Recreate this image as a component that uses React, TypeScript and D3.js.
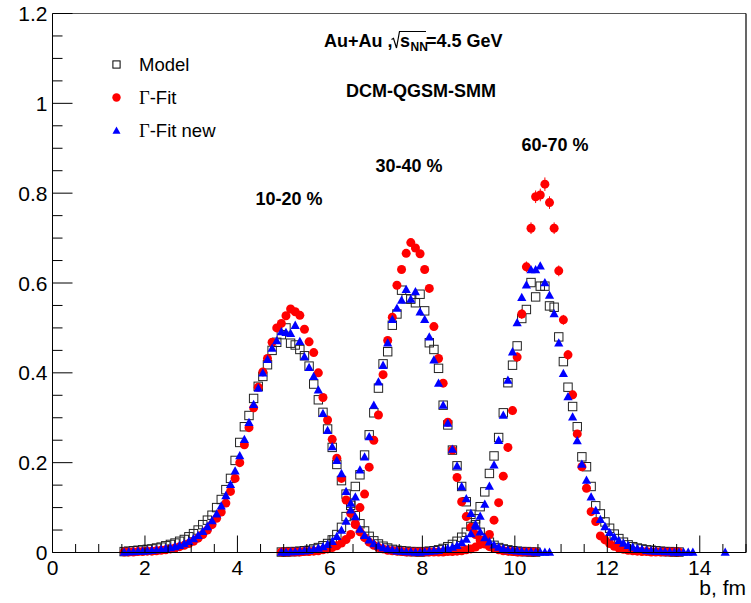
import React from "react";
import * as d3 from "d3";

// Impact-parameter distributions for three centrality classes (bins of 0.1 fm)
const classLabels = ["10-20 %", "30-40 %", "60-70 %"];
const binWidth = 0.1;

// 10-20 %: first bin centre 1.55 fm
const start10_20 = 1.55;
const model10_20 = [
  0.002, 0.003, 0.004, 0.005, 0.006, 0.007, 0.008, 0.010, 0.012, 0.015,
  0.018, 0.021, 0.025, 0.029, 0.035, 0.042, 0.050, 0.062, 0.072, 0.083,
  0.100, 0.118, 0.140, 0.165, 0.205, 0.245, 0.280, 0.305, 0.343, 0.370,
  0.392, 0.418, 0.450, 0.468, 0.485, 0.500, 0.466, 0.462, 0.452, 0.438,
  0.415, 0.375, 0.340, 0.312, 0.275, 0.234, 0.196, 0.160, 0.130, 0.105,
  0.082, 0.064, 0.048, 0.036, 0.026, 0.019, 0.014, 0.010, 0.007, 0.005,
  0.004, 0.003, 0.002, 0.002, 0.001,
];
const gfit10_20 = [
  0.001, 0.001, 0.001, 0.002, 0.002, 0.003, 0.003, 0.004, 0.005, 0.006,
  0.008, 0.010, 0.013, 0.016, 0.020, 0.025, 0.032, 0.040, 0.050, 0.062,
  0.076, 0.090, 0.110, 0.136, 0.165, 0.200, 0.240, 0.278, 0.322, 0.368,
  0.402, 0.432, 0.468, 0.500, 0.510, 0.527, 0.542, 0.536, 0.528, 0.497,
  0.469, 0.445, 0.400, 0.345, 0.295, 0.252, 0.210, 0.165, 0.117, 0.087,
  0.064, 0.046, 0.033, 0.023, 0.016, 0.011, 0.008, 0.005, 0.004, 0.003,
  0.002, 0.001, 0.001, 0.001, 0.001,
];
const gfitNew10_20 = [
  0.001, 0.002, 0.002, 0.003, 0.003, 0.004, 0.005, 0.006, 0.007, 0.009,
  0.011, 0.013, 0.016, 0.020, 0.025, 0.031, 0.038, 0.047, 0.058, 0.071,
  0.086, 0.104, 0.127, 0.152, 0.182, 0.216, 0.252, 0.290, 0.330, 0.366,
  0.400, 0.430, 0.455, 0.472, 0.492, 0.490, 0.488, 0.506, 0.470, 0.436,
  0.412, 0.392, 0.362, 0.310, 0.272, 0.236, 0.205, 0.176, 0.136, 0.110,
  0.080, 0.052, 0.038, 0.028, 0.020, 0.015, 0.011, 0.008, 0.006, 0.004,
  0.003, 0.002, 0.002, 0.001, 0.001,
];

// 30-40 %: first bin centre 4.95 fm
const start30_40 = 4.95;
const model30_40 = [
  0.001, 0.001, 0.002, 0.002, 0.003, 0.004, 0.005, 0.008, 0.011, 0.015,
  0.020, 0.028, 0.040, 0.056, 0.080, 0.110, 0.147, 0.173, 0.217, 0.262,
  0.311, 0.366, 0.420, 0.447, 0.506, 0.531, 0.584, 0.565, 0.564, 0.556,
  0.575, 0.538, 0.467, 0.452, 0.410, 0.328, 0.284, 0.228, 0.193, 0.147,
  0.113, 0.085, 0.062, 0.045, 0.032, 0.023, 0.016, 0.011, 0.008, 0.006,
  0.004, 0.003, 0.002, 0.002, 0.001, 0.001,
];
const gfit30_40 = [
  0.001, 0.001, 0.001, 0.001, 0.001, 0.002, 0.002, 0.003, 0.004, 0.006,
  0.008, 0.011, 0.015, 0.021, 0.029, 0.040, 0.062, 0.100, 0.130, 0.190,
  0.250, 0.306, 0.396, 0.472, 0.524, 0.595, 0.630, 0.666, 0.690, 0.678,
  0.665, 0.630, 0.588, 0.503, 0.432, 0.377, 0.290, 0.228, 0.167, 0.113,
  0.080, 0.056, 0.040, 0.028, 0.019, 0.013, 0.009, 0.006, 0.004, 0.003,
  0.002, 0.001, 0.001, 0.001, 0.001, 0.001,
];
const gfitNew30_40 = [
  0.001, 0.001, 0.002, 0.002, 0.003, 0.004, 0.005, 0.007, 0.010, 0.013,
  0.018, 0.025, 0.036, 0.050, 0.070, 0.095, 0.124, 0.184, 0.213, 0.258,
  0.328, 0.380, 0.417, 0.467, 0.519, 0.544, 0.562, 0.586, 0.564, 0.581,
  0.536, 0.519, 0.480, 0.429, 0.377, 0.328, 0.288, 0.230, 0.193, 0.147,
  0.120, 0.087, 0.063, 0.046, 0.033, 0.024, 0.017, 0.012, 0.009, 0.006,
  0.005, 0.004, 0.003, 0.002, 0.002, 0.001, 0.001, 0.001, 0.001,
];

// 60-70 %: first bin centre 8.05 fm
const start60_70 = 8.05;
const model60_70 = [
  0.002, 0.003, 0.004, 0.006, 0.009, 0.013, 0.018, 0.025, 0.034, 0.045,
  0.058, 0.075, 0.102, 0.135, 0.176, 0.215, 0.256, 0.311, 0.378, 0.417,
  0.460, 0.521, 0.541, 0.601, 0.569, 0.593, 0.593, 0.549, 0.546, 0.480,
  0.425, 0.368, 0.325, 0.280, 0.213, 0.191, 0.147, 0.104, 0.086, 0.068,
  0.054, 0.041, 0.031, 0.023, 0.017, 0.013, 0.010, 0.008, 0.006, 0.005,
  0.004, 0.003, 0.002, 0.002, 0.001, 0.001,
];
const gfit60_70 = [
  0.001, 0.001, 0.001, 0.001, 0.001, 0.002, 0.002, 0.003, 0.004, 0.006,
  0.008, 0.012, 0.018, 0.027, 0.040, 0.072, 0.111, 0.170, 0.234, 0.316,
  0.435, 0.531, 0.636, 0.722, 0.792, 0.796, 0.820, 0.779, 0.722, 0.627,
  0.518, 0.440, 0.351, 0.264, 0.191, 0.143, 0.091, 0.069, 0.037, 0.028,
  0.020, 0.014, 0.010, 0.007, 0.005, 0.004, 0.003, 0.002, 0.002, 0.001,
  0.001, 0.001, 0.001, 0.001, 0.001, 0.001,
];
const gfitErr60_70 = [
  0.001, 0.001, 0.001, 0.001, 0.001, 0.001, 0.001, 0.001, 0.001, 0.001,
  0.002, 0.002, 0.003, 0.004, 0.005, 0.006, 0.007, 0.008, 0.009, 0.010,
  0.011, 0.011, 0.012, 0.013, 0.014, 0.014, 0.015, 0.014, 0.013, 0.012,
  0.011, 0.011, 0.010, 0.009, 0.008, 0.007, 0.006, 0.005, 0.004, 0.003,
  0.003, 0.002, 0.002, 0.002, 0.001, 0.001, 0.001, 0.001, 0.001, 0.001,
  0.001, 0.001, 0.001, 0.001, 0.001, 0.001,
];
const gfitNew60_70 = [
  0.002, 0.003, 0.004, 0.005, 0.007, 0.009, 0.012, 0.016, 0.022, 0.030,
  0.042, 0.059, 0.081, 0.108, 0.148, 0.195, 0.250, 0.306, 0.384, 0.447,
  0.512, 0.568, 0.596, 0.630, 0.630, 0.638, 0.601, 0.573, 0.532, 0.467,
  0.399, 0.347, 0.302, 0.249, 0.197, 0.161, 0.124, 0.094, 0.074, 0.058,
  0.045, 0.035, 0.027, 0.021, 0.016, 0.012, 0.009, 0.007, 0.005, 0.004,
  0.003, 0.003, 0.002, 0.002, 0.001, 0.001, 0.001, 0.001, 0.001,
  null, null, null, null, null, null, 0.001,
];

const xTicks = [0, 2, 4, 6, 8, 10, 12, 14];
const yTicks = [0, 0.2, 0.4, 0.6, 0.8, 1, 1.2];
const yTickLabels = ["0", "0.2", "0.4", "0.6", "0.8", "1", "1.2"];

const legendLabels = ["Model", "-Fit", "-Fit new"];

const W = 751;
const H = 603;
const FONT = "'Liberation Sans', Arial, Helvetica, sans-serif";
const RED = "#ff0000";
const BLUE = "#0000ff";

type Pt = { b: number; v: number; e?: number };

function toPoints(start: number, values: (number | null)[], errs?: number[]): Pt[] {
  const out: Pt[] = [];
  values.forEach((v, i) => {
    if (v === null) return;
    out.push({ b: +(start + i * binWidth).toFixed(2), v, e: errs ? errs[i] : undefined });
  });
  return out;
}

const modelPts = [
  ...toPoints(start10_20, model10_20),
  ...toPoints(start30_40, model30_40),
  ...toPoints(start60_70, model60_70),
];
const gfitPts = [
  ...toPoints(start10_20, gfit10_20),
  ...toPoints(start30_40, gfit30_40),
  ...toPoints(start60_70, gfit60_70, gfitErr60_70),
];
const gfitNewPts = [
  ...toPoints(start10_20, gfitNew10_20),
  ...toPoints(start30_40, gfitNew30_40),
  ...toPoints(start60_70, gfitNew60_70),
];

const x = d3.scaleLinear().domain([0, 15]).range([52.5, 746]);
const y = d3.scaleLinear().domain([0, 1.2]).range([552.5, 13.5]);

const triPath = (cx: number, cy: number, s: number) =>
  `M${cx - s},${cy + s * 0.8}L${cx + s},${cy + s * 0.8}L${cx},${cy - s}Z`;

export default function App() {
  const xMinor = d3.range(0, 15.001, 0.5).filter((t) => Math.abs(t / 2 - Math.round(t / 2)) > 1e-6);
  const yMinor = d3.range(0, 1.2001, 0.05).filter((t) => Math.abs(t / 0.2 - Math.round(t / 0.2)) > 1e-6);
  const circR = 4.5;
  const sq = 8.4;

  return (
    <svg
      width={W}
      height={H}
      viewBox={`0 0 ${W} ${H}`}
      style={{ position: "absolute", left: 0, top: 0, background: "#fff" }}
      fontFamily={FONT}
    >
      <rect x={0} y={0} width={W} height={H} fill="#fff" />

      {/* frame */}
      <line x1={x(0)} x2={x(15)} y1={y(1.2)} y2={y(1.2)} stroke="#555" strokeWidth={1} />
      <line x1={x(15)} x2={x(15)} y1={y(1.2)} y2={y(0)} stroke="#000" strokeWidth={1.2} />

      {/* Model: open squares */}
      <g fill="none" stroke="#222" strokeWidth={1}>
        {modelPts.map((p, i) => (
          <rect key={i} x={x(p.b) - sq / 2} y={y(p.v) - sq / 2} width={sq} height={sq} />
        ))}
      </g>

      {/* Γ-Fit: red full circles with error bars */}
      <g>
        {gfitPts.map((p, i) =>
          p.e ? (
            <line key={"e" + i} x1={x(p.b)} x2={x(p.b)} y1={y(p.v + p.e)} y2={y(p.v - p.e)} stroke={RED} strokeWidth={1} />
          ) : null
        )}
        {gfitPts.map((p, i) => (
          <circle key={i} cx={x(p.b)} cy={y(p.v)} r={circR} fill={RED} />
        ))}
      </g>

      {/* Γ-Fit new: blue full triangles */}
      <g fill={BLUE}>
        {gfitNewPts.map((p, i) => (
          <path key={i} d={triPath(x(p.b), y(p.v), 4.6)} />
        ))}
      </g>

      {/* axes */}
      <g stroke="#000" strokeWidth={1}>
        <line x1={x(0)} x2={x(0)} y1={y(0)} y2={y(1.2)} />
        <line x1={x(0)} x2={x(15)} y1={y(0)} y2={y(0)} />
        {xTicks.map((t) => (
          <line key={"xm" + t} x1={x(t)} x2={x(t)} y1={y(0)} y2={y(0) - 17} />
        ))}
        {xMinor.map((t) => (
          <line key={"xn" + t} x1={x(t)} x2={x(t)} y1={y(0)} y2={y(0) - 8.5} />
        ))}
        {yTicks.map((t) => (
          <line key={"ym" + t} x1={x(0)} x2={x(0) + 20} y1={y(t)} y2={y(t)} />
        ))}
        {yMinor.map((t) => (
          <line key={"yn" + t} x1={x(0)} x2={x(0) + 10} y1={y(t)} y2={y(t)} />
        ))}
      </g>
      <g fontSize={21} fill="#000">
        {xTicks.map((t) => (
          <text key={"xl" + t} x={x(t)} y={575} textAnchor="middle">
            {t}
          </text>
        ))}
        {yTicks.map((t, i) => (
          <text key={"yl" + t} x={47.5} y={y(t) + 7.5} textAnchor="end">
            {yTickLabels[i]}
          </text>
        ))}
        <text x={746} y={595} textAnchor="end">
          b, fm
        </text>
      </g>

      {/* legend */}
      <g>
        <rect x={116.5 - 3.6} y={64.5 - 3.6} width={7.2} height={7.2} fill="none" stroke="#000" strokeWidth={1} />
        <circle cx={116.5} cy={97.5} r={4.2} fill={RED} />
        <path d={triPath(116.5, 130.5, 4)} fill={BLUE} />
        <text x={139} y={71} fontSize={18.5}>
          {legendLabels[0]}
        </text>
        <text x={139} y={104} fontSize={18.5}>
          <tspan fontFamily="'Liberation Serif', 'DejaVu Serif', serif">Γ</tspan>
          {legendLabels[1]}
        </text>
        <text x={139} y={137} fontSize={18.5}>
          <tspan fontFamily="'Liberation Serif', 'DejaVu Serif', serif">Γ</tspan>
          {legendLabels[2]}
        </text>
      </g>

      {/* system and generator */}
      <g fontWeight="bold" fontSize={18} fill="#000">
        <text x={324} y={47}>Au+Au ,</text>
        <path d="M391.5,39.5 L393.5,38.3 L396.5,48 L399.5,31.5 L426,31.5" fill="none" stroke="#000" strokeWidth={1.2} />
        <text x={400} y={47}>s</text>
        <text x={410.5} y={50.5} fontSize={12}>NN</text>
        <text x={426} y={47}>=4.5 GeV</text>
        <text x={421} y={97} textAnchor="middle">DCM-QGSM-SMM</text>
        <text x={289} y={205} textAnchor="middle">{classLabels[0]}</text>
        <text x={409} y={171.5} textAnchor="middle">{classLabels[1]}</text>
        <text x={555} y={150.5} textAnchor="middle">{classLabels[2]}</text>
      </g>
    </svg>
  );
}
